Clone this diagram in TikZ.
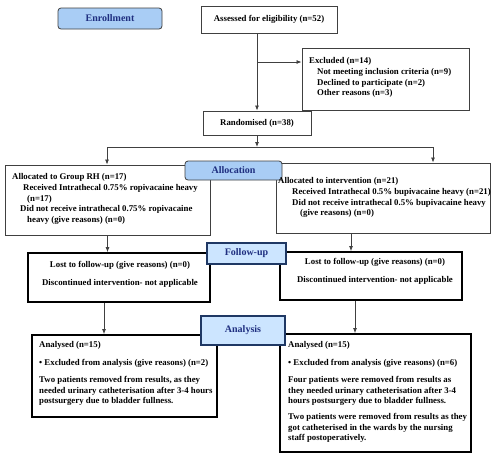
\documentclass[tikz,border=0pt]{standalone}
\usepackage{fontspec}
\setmainfont{Liberation Serif}
\usetikzlibrary{arrows.meta}
\definecolor{labfill}{HTML}{A9CDF5}
\definecolor{labfilltwo}{HTML}{CCE5FF}
\definecolor{navytext}{HTML}{1F2F80}
\definecolor{navyline}{HTML}{1F3864}
\definecolor{boxline}{HTML}{404040}
\tikzset{
  plainbox/.style={draw=boxline, line width=0.9pt, fill=white, inner sep=0pt},
  heavybox/.style={draw=black, line width=1.8pt, fill=white, inner sep=0pt},
  roundlab/.style={draw=boxline, line width=0.8pt, fill=labfill, rounded corners=3pt, inner sep=0pt,
     font=\bfseries\fontsize{10}{12}\selectfont, text=navytext},
  squarelab/.style={draw=navyline, line width=1.3pt, fill=labfilltwo, inner sep=0pt,
     font=\bfseries\fontsize{10}{12}\selectfont, text=navytext},
  txt/.style={inner sep=0pt, align=left, font=\bfseries\fontsize{8.8}{10.6}\selectfont},
  ctxt/.style={inner sep=0pt, align=center, font=\bfseries\fontsize{8.8}{10.6}\selectfont},
  conn/.style={draw=boxline, line width=0.8pt},
  arr/.style={conn, -{Latex[length=5pt,width=4pt]}}
}
\begin{document}
\begin{tikzpicture}[x=1pt,y=-1pt]
\useasboundingbox (0,0) rectangle (500,456);
\fill[white] (0,0) rectangle (500,456);

% boxes
\node[plainbox, minimum width=136pt, minimum height=27pt, font=\bfseries\fontsize{8.8}{10.6}\selectfont] (assess) at (269,19.5) {Assessed for eligibility (n=52)};
\node[plainbox, minimum width=167pt, minimum height=62pt] (excl) at (385.5,79) {};
\node[plainbox, minimum width=108pt, minimum height=24pt, font=\bfseries\fontsize{8.8}{10.6}\selectfont] (rand) at (257,123) {Randomised (n=38)};
\node[plainbox, minimum width=205pt, minimum height=70pt] (la) at (107.5,200) {};
\node[plainbox, minimum width=214pt, minimum height=70pt] (ra) at (383,198) {};
\node[heavybox, minimum width=182pt, minimum height=49pt] (lf) at (119,277.5) {};
\node[heavybox, minimum width=182pt, minimum height=48pt] (rf) at (371,276) {};
\node[heavybox, minimum width=185pt, minimum height=82pt] (lan) at (124.5,376) {};
\node[heavybox, minimum width=191pt, minimum height=118pt] (ran) at (375.5,393) {};

% stage labels
\node[roundlab, minimum width=104pt, minimum height=21pt] (enroll) at (110,18.5) {Enrollment};
\node[roundlab, minimum width=97pt, minimum height=19pt] (alloc) at (233.5,170.5) {Allocation};
\node[squarelab, minimum width=79pt, minimum height=21pt] (follow) at (246.5,253.5) {Follow-up};
\node[squarelab, minimum width=84pt, minimum height=29pt] (analysis) at (243,330.5) {Analysis};

% texts
\node[txt, anchor=north west] (excltxt) at (309,57.5) {Excluded (n=14)\\
\hspace*{8pt}Not meeting inclusion criteria (n=9)\\
\hspace*{8pt}Declined to participate (n=2)\\
\hspace*{8pt}Other reasons (n=3)};
\node[txt, anchor=north west] (latxt) at (12,173.5) {Allocated to Group RH (n=17)\\
\hspace*{11pt}Received Intrathecal 0.75\% ropivacaine heavy\\
\hspace*{15pt}(n=17)\\
\hspace*{8pt}Did not receive intrathecal 0.75\% ropivacaine\\
\hspace*{15pt}heavy (give reasons) (n=0)};
\node[txt, anchor=north west] (ratxt) at (278,177.5) {Allocated to intervention (n=21)\\
\hspace*{14pt}Received Intrathecal 0.5\% bupivacaine heavy (n=21)\\
\hspace*{14pt}Did not receive intrathecal 0.5\% bupivacaine heavy\\
\hspace*{22pt}(give reasons) (n=0)};
\node[ctxt, anchor=north] (lftxt) at (120,261.5) {Lost to follow-up (give reasons) (n=0)\\[7.3pt]
Discontinued intervention- not applicable};
\node[ctxt, anchor=north] (rftxt) at (375,258.5) {Lost to follow-up (give reasons) (n=0)\\[7.3pt]
Discontinued intervention- not applicable};
\node[txt, anchor=north west] (lantxt) at (39,341.5) {Analysed (n=15)\\[7.3pt]
\textbullet{} Excluded from analysis (give reasons) (n=2)\\[6.3pt]
Two patients removed from results, as they\\
needed urinary catheterisation after 3-4 hours\\
postsurgery due to bladder fullness.};
\node[txt, anchor=north west] (rantxt) at (288,341.5) {Analysed (n=15)\\[7.3pt]
\textbullet{} Excluded from analysis (give reasons) (n=6)\\[6.3pt]
Four patients were removed from results as\\
they needed urinary catheterisation after 3-4\\
hours postsurgery due to bladder fullness.\\[5.3pt]
Two patients were removed from results as they\\
got catheterised in the wards by the nursing\\
staff postoperatively.};

% connectors
\coordinate (j1) at (257,62);
\coordinate (split) at (257,147);
\coordinate (sl) at (107,147);
\coordinate (sr) at (433,147);
\coordinate (xr) at (351,0);
\coordinate (xl) at (104,0);
\coordinate (xrr) at (355,0);
\draw[arr] (assess.south -| rand.north) -- (rand.north);
\draw[arr] (j1) -- (j1 -| excl.west);
\draw[arr] (rand.south) -- (split);
\draw[conn] (sl) -- (sr);
\draw[arr] (sl) -- (sl |- la.north);
\draw[arr] (sr) -- (sr |- ra.north);
\draw[arr] (la.south) -- (la.south |- lf.north);
\draw[arr] (ra.south -| xr) -- (rf.north -| xr);
\draw[arr] (lf.south -| xl) -- (lan.north -| xl);
\draw[arr] (rf.south -| xrr) -- (ran.north -| xrr);
\end{tikzpicture}
\end{document}
